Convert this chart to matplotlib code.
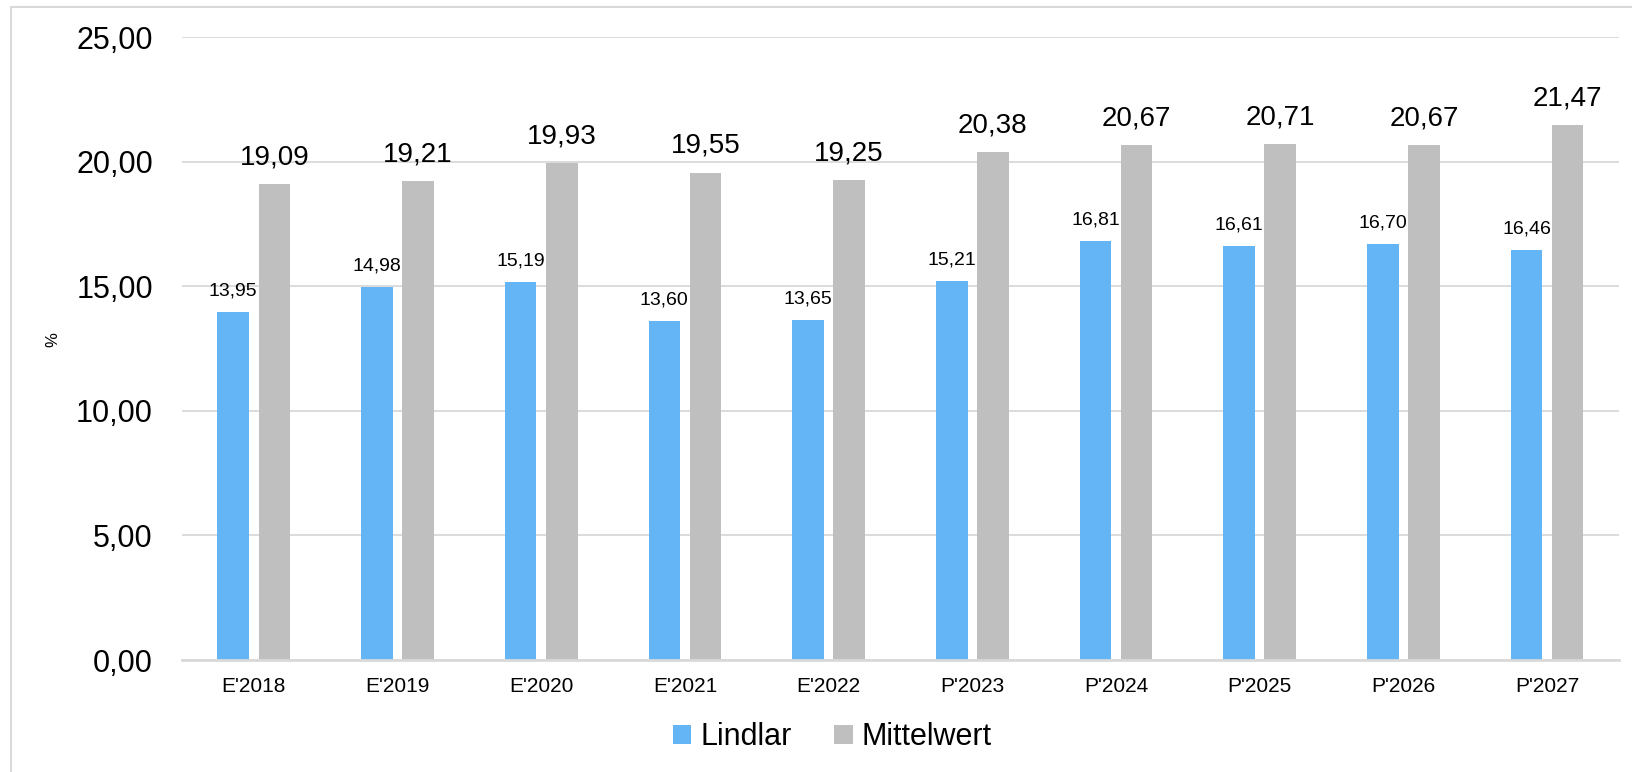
import matplotlib
matplotlib.use("Agg")
import matplotlib.pyplot as plt
import matplotlib.patches as patches
import numpy as np

plt.rcParams['font.family'] = ['Liberation Sans', 'DejaVu Sans']

# data
years = ["E'2018", "E'2019", "E'2020", "E'2021", "E'2022",
         "P'2023", "P'2024", "P'2025", "P'2026", "P'2027"]
lindlar = [13.95, 14.98, 15.19, 13.60, 13.65, 15.21, 16.81, 16.61, 16.70, 16.46]
mittelwert = [19.09, 19.21, 19.93, 19.55, 19.25, 20.38, 20.67, 20.71, 20.67, 21.47]

blue = '#64B5F6'
grey = '#BFBFBF'

fig = plt.figure(figsize=(16.32, 7.72), dpi=100)
ax = fig.add_axes([0.1115, 0.145, 0.8805, 0.807])

# light border round the chart
fig.patches.append(patches.Rectangle((11 / 1632, -0.1), 1.2, 1 - 7 / 772 + 0.1,
                                     transform=fig.transFigure, fill=False,
                                     edgecolor='#d9d9d9', linewidth=1.5))

x = np.arange(len(years))
w = 0.22
off = 0.143
b1 = ax.bar(x - off, lindlar, w, color=blue, label='Lindlar')
b2 = ax.bar(x + off, mittelwert, w, color=grey, label='Mittelwert')

def fmt(v):
    return f'{v:.2f}'.replace('.', ',')

for rect, v in zip(b1, lindlar):
    ax.annotate(fmt(v), (rect.get_x() + rect.get_width() / 2, v),
                xytext=(0, 9), textcoords='offset points',
                ha='center', va='bottom', fontsize=14)
for rect, v in zip(b2, mittelwert):
    ax.annotate(fmt(v), (rect.get_x() + rect.get_width() / 2, v),
                xytext=(0, 10), textcoords='offset points',
                ha='center', va='bottom', fontsize=20)

ax.set_xlim(-0.5, len(years) - 0.5)
ax.set_ylim(0, 25)
ax.set_yticks(np.arange(0, 26, 5))
ax.set_yticklabels([fmt(v) for v in np.arange(0, 26, 5)], fontsize=22)
ax.set_xticks(x)
ax.set_xticklabels(years, fontsize=15)
ax.tick_params(axis='y', length=0, pad=21)
ax.tick_params(axis='x', length=0, pad=12)

ax.yaxis.grid(True, color='#d9d9d9', linewidth=1.3)
ax.set_axisbelow(True)
for s in ['top', 'right', 'left']:
    ax.spines[s].set_visible(False)
ax.spines['bottom'].set_color('#d9d9d9')
ax.spines['bottom'].set_linewidth(2)

fig.text(53 / 1632, 1 - 340 / 772, '%', rotation=90, fontsize=12,
         ha='center', va='center')

fig.legend(handles=[b1, b2], loc='center', bbox_to_anchor=(0.51, 0.045),
           ncol=2, frameon=False, fontsize=22, handlelength=0.6,
           handleheight=0.6, handletextpad=0.3, columnspacing=1.4)

fig.savefig('out.png', dpi=100)
